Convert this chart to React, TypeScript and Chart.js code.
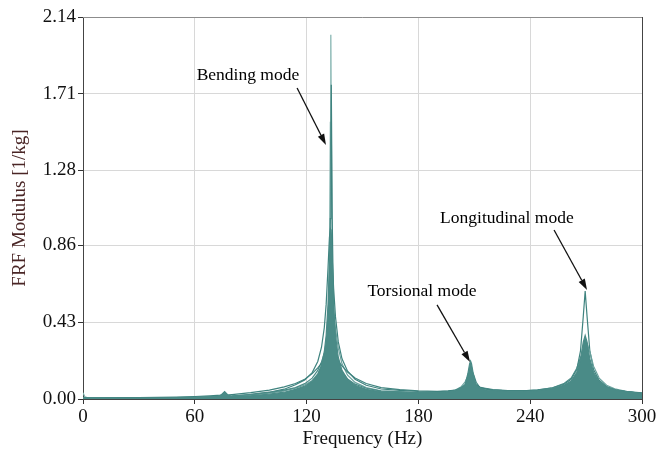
import { useEffect, useRef } from "react";
import { Chart, registerables } from "chart.js";

Chart.register(...registerables);

// Frequency grid (Hz), denser around the three modes
const FREQ = [0, 1, 3, 10, 20, 30, 40, 50, 60, 68, 72, 74, 76, 78, 80, 90, 100, 108, 114, 119, 123, 126, 128, 129.5, 130.5, 131.5, 132.25, 132.75, 133, 133.25, 133.75, 134.5, 135.5, 137, 139, 142, 146, 152, 160, 170, 180, 190, 196, 200, 203, 205, 206.5, 207.5, 208, 208.5, 209.5, 211, 213, 216, 220, 228, 236, 244, 252, 258, 262, 265, 267, 268.5, 269.5, 270.5, 272, 274, 277, 281, 286, 292, 300];

// FRF modulus [1/kg] for several measurement points
const S1 = [0.035, 0.012, 0.005, 0.005, 0.005, 0.006, 0.006, 0.007, 0.008, 0.009, 0.01, 0.01, 0.011, 0.011, 0.012, 0.015, 0.02, 0.027, 0.035, 0.047, 0.065, 0.092, 0.128, 0.18, 0.247, 0.4, 0.75, 1.55, 2.04, 1.55, 0.75, 0.4, 0.247, 0.157, 0.107, 0.073, 0.053, 0.038, 0.029, 0.025, 0.022, 0.021, 0.022, 0.024, 0.029, 0.037, 0.049, 0.061, 0.064, 0.061, 0.049, 0.036, 0.029, 0.023, 0.023, 0.02, 0.019, 0.021, 0.025, 0.03, 0.037, 0.05, 0.074, 0.112, 0.132, 0.112, 0.074, 0.05, 0.035, 0.027, 0.022, 0.019, 0.017];
const S2 = [0.008, 0.006, 0.004, 0.004, 0.005, 0.005, 0.006, 0.006, 0.007, 0.008, 0.009, 0.009, 0.01, 0.01, 0.011, 0.014, 0.019, 0.026, 0.035, 0.047, 0.063, 0.088, 0.124, 0.17, 0.23, 0.35, 0.585, 1.01, 1.43, 1.76, 1.01, 0.48, 0.276, 0.17, 0.113, 0.076, 0.055, 0.04, 0.03, 0.025, 0.023, 0.023, 0.025, 0.029, 0.037, 0.049, 0.07, 0.09, 0.094, 0.09, 0.07, 0.049, 0.037, 0.034, 0.029, 0.025, 0.024, 0.026, 0.03, 0.038, 0.05, 0.075, 0.115, 0.178, 0.212, 0.178, 0.115, 0.075, 0.05, 0.037, 0.029, 0.024, 0.02];
const S3 = [0.006, 0.005, 0.004, 0.004, 0.004, 0.005, 0.005, 0.006, 0.007, 0.009, 0.013, 0.022, 0.042, 0.02, 0.013, 0.018, 0.027, 0.038, 0.054, 0.072, 0.099, 0.138, 0.19, 0.265, 0.357, 0.53, 0.76, 0.92, 0.95, 0.92, 0.76, 0.53, 0.357, 0.234, 0.16, 0.11, 0.077, 0.054, 0.04, 0.036, 0.033, 0.034, 0.039, 0.048, 0.065, 0.079, 0.14, 0.198, 0.213, 0.198, 0.138, 0.076, 0.06, 0.05, 0.049, 0.043, 0.042, 0.047, 0.057, 0.076, 0.1, 0.15, 0.225, 0.32, 0.356, 0.32, 0.225, 0.15, 0.1, 0.068, 0.05, 0.04, 0.032];
const S4 = [0.005, 0.004, 0.004, 0.004, 0.004, 0.005, 0.005, 0.006, 0.008, 0.01, 0.011, 0.012, 0.013, 0.014, 0.015, 0.026, 0.038, 0.055, 0.08, 0.107, 0.148, 0.21, 0.29, 0.4, 0.53, 0.735, 0.905, 0.95, 0.94, 0.9, 0.79, 0.62, 0.46, 0.32, 0.225, 0.156, 0.111, 0.077, 0.056, 0.048, 0.042, 0.04, 0.044, 0.049, 0.062, 0.079, 0.107, 0.14, 0.156, 0.163, 0.14, 0.094, 0.064, 0.06, 0.053, 0.047, 0.046, 0.05, 0.062, 0.082, 0.11, 0.165, 0.27, 0.465, 0.605, 0.465, 0.27, 0.165, 0.105, 0.07, 0.05, 0.04, 0.03];
const S5 = [0.005, 0.004, 0.004, 0.005, 0.005, 0.005, 0.006, 0.007, 0.008, 0.01, 0.014, 0.02, 0.036, 0.018, 0.015, 0.022, 0.033, 0.046, 0.06, 0.078, 0.104, 0.141, 0.183, 0.234, 0.284, 0.354, 0.417, 0.46, 0.477, 0.49, 0.504, 0.477, 0.395, 0.285, 0.197, 0.133, 0.093, 0.064, 0.046, 0.041, 0.036, 0.037, 0.042, 0.052, 0.069, 0.095, 0.127, 0.14, 0.136, 0.127, 0.105, 0.079, 0.06, 0.056, 0.05, 0.045, 0.045, 0.049, 0.059, 0.077, 0.1, 0.136, 0.185, 0.245, 0.29, 0.31, 0.267, 0.184, 0.117, 0.077, 0.055, 0.042, 0.032];
const S6 = [0.006, 0.005, 0.005, 0.005, 0.006, 0.006, 0.007, 0.008, 0.01, 0.012, 0.013, 0.014, 0.015, 0.016, 0.017, 0.025, 0.037, 0.05, 0.064, 0.086, 0.117, 0.16, 0.208, 0.256, 0.29, 0.317, 0.324, 0.32, 0.317, 0.312, 0.298, 0.273, 0.238, 0.194, 0.151, 0.112, 0.083, 0.06, 0.044, 0.04, 0.036, 0.036, 0.04, 0.048, 0.06, 0.077, 0.097, 0.108, 0.11, 0.108, 0.097, 0.077, 0.06, 0.056, 0.05, 0.046, 0.046, 0.051, 0.063, 0.086, 0.118, 0.172, 0.232, 0.258, 0.245, 0.216, 0.17, 0.128, 0.09, 0.065, 0.05, 0.04, 0.031];
const S7 = [0.006, 0.006, 0.006, 0.006, 0.007, 0.008, 0.009, 0.011, 0.014, 0.018, 0.02, 0.021, 0.022, 0.023, 0.025, 0.036, 0.05, 0.068, 0.087, 0.111, 0.142, 0.174, 0.199, 0.219, 0.23, 0.239, 0.243, 0.244, 0.244, 0.244, 0.243, 0.239, 0.23, 0.212, 0.186, 0.151, 0.118, 0.087, 0.064, 0.053, 0.046, 0.043, 0.045, 0.05, 0.059, 0.07, 0.081, 0.086, 0.086, 0.085, 0.08, 0.078, 0.067, 0.057, 0.05, 0.045, 0.045, 0.048, 0.055, 0.07, 0.09, 0.116, 0.142, 0.16, 0.165, 0.16, 0.142, 0.115, 0.088, 0.064, 0.05, 0.041, 0.034];

const Y_TICKS = [0, 0.43, 0.86, 1.28, 1.71, 2.14];
const X_TICKS = [0, 60, 120, 180, 240, 300];

const ANNOTATIONS = [
  { text: "Bending mode", tx: 88.5, ty: 1.815, ax0: 114.9, ay0: 1.742, ax1: 130.4, ay1: 1.423 },
  { text: "Torsional mode", tx: 181.9, ty: 0.605, ax0: 190.0, ay0: 0.527, ax1: 207.7, ay1: 0.207 },
  { text: "Longitudinal mode", tx: 227.5, ty: 1.014, ax0: 252.8, ay0: 0.947, ax1: 270.5, ay1: 0.611 },
];

const SERIES = [
  { data: S3, color: "#4a8b87", fill: true },
  { data: S7, color: "#3f837f", fill: false },
  { data: S6, color: "#4a8b87", fill: false },
  { data: S5, color: "#6aa29e", fill: false },
  { data: S4, color: "#3f837f", fill: false },
  { data: S2, color: "#3f837f", fill: false },
  { data: S1, color: "#7fb1ad", fill: false },
];

const SERIF = "'Liberation Serif', 'Times New Roman', serif";

const overlay = {
  id: "overlay",
  afterDatasetsDraw(chart: any) {
    const { ctx, chartArea: a, scales } = chart;
    const x = scales.x;
    const y = scales.y;
    ctx.save();
    ctx.lineWidth = 1;
    ctx.strokeStyle = "#8c8c8c";
    ctx.beginPath();
    ctx.moveTo(a.left, Math.round(a.top) + 0.5);
    ctx.lineTo(a.right, Math.round(a.top) + 0.5);
    ctx.stroke();
    ctx.strokeStyle = "#444";
    ctx.beginPath();
    ctx.moveTo(Math.round(a.right) + 0.5, a.top);
    ctx.lineTo(Math.round(a.right) + 0.5, a.bottom);
    ctx.stroke();

    ctx.font = "17.5px " + SERIF;
    ctx.fillStyle = "#000";
    ctx.textAlign = "center";
    ctx.textBaseline = "middle";
    for (const an of ANNOTATIONS) {
      ctx.fillText(an.text, x.getPixelForValue(an.tx), y.getPixelForValue(an.ty));
      const x0 = x.getPixelForValue(an.ax0);
      const y0 = y.getPixelForValue(an.ay0);
      const x1 = x.getPixelForValue(an.ax1);
      const y1 = y.getPixelForValue(an.ay1);
      const ang = Math.atan2(y1 - y0, x1 - x0);
      const hl = 11;
      const hw = 3.5;
      const bx = x1 - hl * Math.cos(ang);
      const by = y1 - hl * Math.sin(ang);
      ctx.strokeStyle = "#111";
      ctx.lineWidth = 1.3;
      ctx.beginPath();
      ctx.moveTo(x0, y0);
      ctx.lineTo(bx, by);
      ctx.stroke();
      ctx.fillStyle = "#111";
      ctx.beginPath();
      ctx.moveTo(x1, y1);
      ctx.lineTo(bx + hw * Math.sin(ang), by - hw * Math.cos(ang));
      ctx.lineTo(bx - hw * Math.sin(ang), by + hw * Math.cos(ang));
      ctx.closePath();
      ctx.fill();
      ctx.fillStyle = "#000";
    }
    ctx.restore();
  },
};

export default function App() {
  const ref = useRef<HTMLCanvasElement | null>(null);

  useEffect(() => {
    if (!ref.current) return;
    const datasets = SERIES.map((s) => ({
      data: FREQ.map((f, i) => ({ x: f, y: s.data[i] })),
      borderColor: s.color,
      backgroundColor: s.fill ? "#4a8b87" : "transparent",
      borderWidth: 1.2,
      pointRadius: 0,
      tension: 0,
      fill: s.fill ? "origin" : false,
    }));
    const chart = new Chart(ref.current, {
      type: "line",
      data: { datasets },
      options: {
        animation: false,
        responsive: true,
        maintainAspectRatio: false,
        layout: { padding: { left: 0, right: 20, top: 17, bottom: 0 } },
        plugins: { legend: { display: false }, tooltip: { enabled: false } },
        scales: {
          x: {
            type: "linear",
            min: 0,
            max: 300,
            afterBuildTicks: (scale: any) => {
              scale.ticks = X_TICKS.map((v) => ({ value: v }));
            },
            afterFit: (scale: any) => {
              scale.height = 56;
            },
            ticks: {
              color: "#111",
              font: { family: SERIF, size: 19 },
              padding: 2,
              maxRotation: 0,
            },
            grid: { color: "#d8d8d8", tickColor: "#333", tickLength: 5 },
            border: { color: "#444", width: 1 },
            title: {
              display: true,
              text: "Frequency (Hz)",
              color: "#111",
              font: { family: SERIF, size: 19 },
              padding: { top: 0, bottom: 5 },
            },
          },
          y: {
            type: "linear",
            min: 0,
            max: 2.14,
            afterBuildTicks: (scale: any) => {
              scale.ticks = Y_TICKS.map((v) => ({ value: v }));
            },
            afterFit: (scale: any) => {
              scale.width = 83;
            },
            ticks: {
              color: "#111",
              font: { family: SERIF, size: 19 },
              padding: 2,
              callback: (v: any) => Number(v).toFixed(2),
            },
            grid: { color: "#d8d8d8", tickColor: "#333", tickLength: 5 },
            border: { color: "#444", width: 1 },
            title: {
              display: true,
              text: "FRF Modulus [1/kg]",
              color: "#4a2626",
              font: { family: SERIF, size: 19 },
              padding: { top: 9, bottom: 0 },
            },
          },
        },
      },
      plugins: [overlay],
    });
    return () => chart.destroy();
  }, []);

  return (
    <div style={{ position: "fixed", left: 0, top: 0, width: 662, height: 455, background: "#fff" }}>
      <canvas ref={ref} />
    </div>
  );
}
